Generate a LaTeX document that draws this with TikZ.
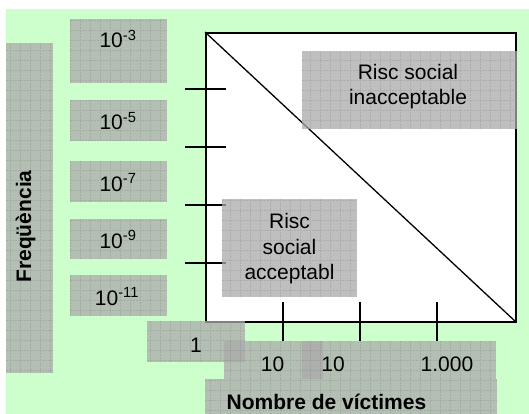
\documentclass[tikz,border=0pt]{standalone}
\usepackage{fontspec}
\setmainfont{Liberation Sans}

\definecolor{bggreen}{HTML}{CCFFCC}
\definecolor{boxgrey}{RGB}{170,170,170}
\definecolor{gridgrey}{RGB}{140,140,140}

\tikzset{
  greybox/.style={fill=boxgrey, fill opacity=0.75,
    path picture={\draw[gridgrey, opacity=0.35, line width=0.45pt, step=10pt,
                        dash pattern=on 2pt off 1pt]
      (path picture bounding box.south west) grid (path picture bounding box.north east);}},
  lbl/.style={font=\fontsize{21}{25.5}\selectfont, inner sep=0pt, anchor=base},
  boldlbl/.style={font=\fontsize{21}{24}\selectfont\bfseries, inner sep=0pt, anchor=base},
  axtick/.style={line width=1.6pt},
}

\begin{document}
\begin{tikzpicture}[x=1pt, y=-1pt]
    \useasboundingbox (0,0) rectangle (529,414);

    % Background
    \fill[bggreen] (6,9) rectangle (529,414);

    % Plot area
    \node[draw, fill=white, line width=1.6pt, inner sep=0pt, anchor=north west,
          minimum width=310pt, minimum height=289pt] (plot) at (205,32) {};
    \draw[line width=1.3pt] (plot.north west) -- (plot.south east);

    % Ticks
    \foreach \y in {89,147,205,263}
        \draw[axtick] (185,\y) -- (226,\y);
    \foreach \x in {283,360,437}
        \draw[axtick] (\x,302) -- (\x,341);

    % Label boxes
    \path[greybox] (6,43) rectangle (53,373);
    \path[greybox] (70,19) rectangle (167,83);
    \path[greybox] (70,100) rectangle (167,141);
    \path[greybox] (70,161) rectangle (167,202);
    \path[greybox] (70,219) rectangle (167,259);
    \path[greybox] (70,275) rectangle (167,316);
    \path[greybox] (302,51) rectangle (517,129);
    \path[greybox] (222,199) rectangle (357,297);
    \path[greybox] (147,321) rectangle (245,362);
    \path[greybox] (224,341) rectangle (323,379);
    \path[greybox] (302,341) rectangle (496,379);
    \path[greybox] (205,379) rectangle (497,414);

    % Frequency labels
    \node[lbl] (e3) at (118,48) {10\textsuperscript{-3}};
    \node[lbl] (e5) at (118,130) {10\textsuperscript{-5}};
    \node[lbl] (e7) at (118,191) {10\textsuperscript{-7}};
    \node[lbl] (e9) at (118,248) {10\textsuperscript{-9}};
    \node[lbl] (e11) at (117,305) {10\textsuperscript{-11}};
    \node[boldlbl, rotate=90] (freq) at (31,226.5) {Freqüència};

    % Victim labels
    \node[lbl] (v1) at (196,352) {1};
    \node[lbl] (v10) at (272.5,371) {10};
    \node[lbl] (v100) at (333,371) {10};
    \node[lbl] (v1000) at (447,371) {1.000};
    \node[boldlbl] (victims) at (326.5,409) {Nombre de víctimes};

    % Risk regions
    \node[lbl, anchor=center, align=center] (inacc) at (408,86.7) {Risc social\\inacceptable};
    \node[lbl, anchor=center, align=center] (acc) at (289.5,248.7) {Risc\\social\\acceptabl};

\end{tikzpicture}
\end{document}
